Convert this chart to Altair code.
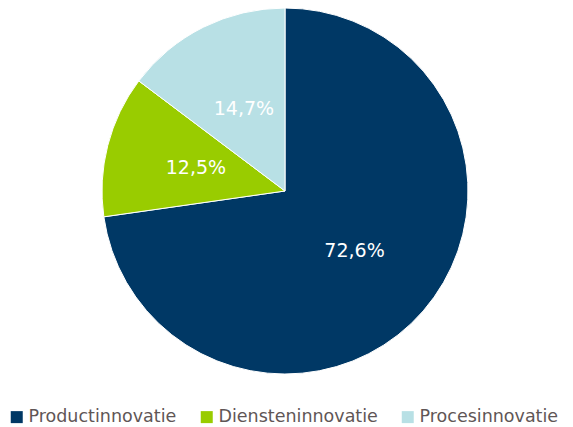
import altair as alt
import pandas as pd

categories = ["Productinnovatie", "Diensteninnovatie", "Procesinnovatie"]
values = [72.6, 12.5, 14.7]
labels = ["72,6%", "12,5%", "14,7%"]
order = [0, 1, 2]
colors = ["#003865", "#99cc00", "#b8e0e5"]

df = pd.DataFrame({"cat": categories, "value": values, "label": labels, "ord": order})

base = alt.Chart(df).encode(
    theta=alt.Theta("value:Q", stack=True),
    order=alt.Order("ord:Q", sort="ascending"),
)

pie = base.mark_arc(outerRadius=183, stroke="white", strokeWidth=1).encode(
    color=alt.Color(
        "cat:N",
        scale=alt.Scale(domain=categories, range=colors),
        sort=categories,
        legend=alt.Legend(
            title=None,
            orient="none",
            direction="horizontal",
            legendX=0,
            legendY=400,
            symbolType="square",
            symbolSize=144,
            symbolStrokeWidth=0,
            labelFont="DejaVu Sans",
            labelFontSize=17.5,
            labelColor="#5f5656",
            labelOffset=3,
            columnPadding=21,
            labelLimit=300,
        ),
    )
)

text = base.mark_text(radius=92, fontSize=19, font="DejaVu Sans", color="white").encode(
    text="label:N"
)

chart = (
    (pie + text)
    .properties(
        width=554,
        height=366,
        padding={"left": 0, "top": 0, "right": 3, "bottom": 54},
        autosize=alt.AutoSizeParams(type="none"),
    )
    .configure_view(stroke=None)
)

chart.save("out.html", embed_options={"renderer": "svg", "actions": False})
